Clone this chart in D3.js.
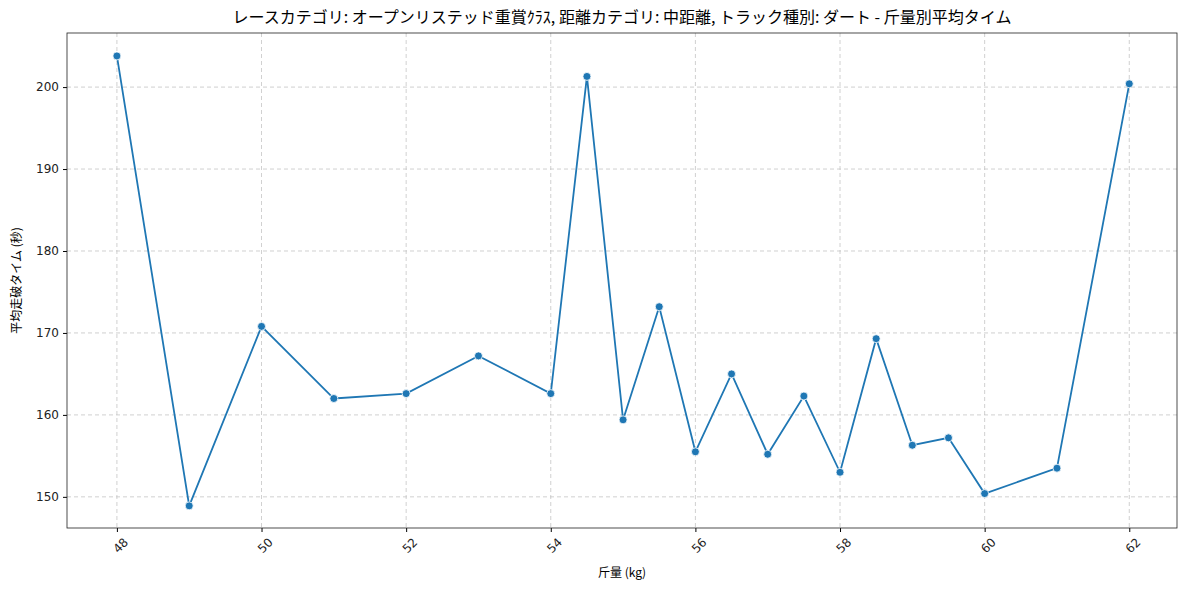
<!DOCTYPE html>
<html><head><meta charset="utf-8">
<script src="https://cdn.jsdelivr.net/npm/d3@7"></script>
<style>body{margin:0;background:#fff;font-family:"Noto Sans CJK JP","DejaVu Sans",sans-serif;}</style>
</head><body>
<svg id="chart" width="1189" height="590"></svg>
<script>
var weights = [48, 49, 50, 51, 52, 53, 54, 54.5, 55, 55.5, 56, 56.5, 57, 57.5, 58, 58.5, 59, 59.5, 60, 61, 62];
var avgTimes = [203.8, 148.9, 170.8, 162.0, 162.6, 167.2, 162.6, 201.3, 159.4, 173.2, 155.5, 165.0, 155.2, 162.3, 153.0, 169.3, 156.3, 157.2, 150.4, 153.5, 200.4];
var xTicks = [48, 50, 52, 54, 56, 58, 60, 62];
var yTicks = [150, 160, 170, 180, 190, 200];

var svg = d3.select("#chart"),
    margin = {top: 33, right: 12, bottom: 62, left: 67},
    width = 1189 - margin.left - margin.right,
    height = 590 - margin.top - margin.bottom;

var g = svg.append("g").attr("transform", "translate(" + margin.left + "," + margin.top + ")");
var x = d3.scaleLinear().domain([47.31, 62.66]).range([0, width]);
var y = d3.scaleLinear().domain([146.2, 206.6]).range([height, 0]);

// grid
g.selectAll(".gx").data(xTicks).enter().append("line")
    .attr("x1", d => x(d)).attr("x2", d => x(d)).attr("y1", 0).attr("y2", height)
    .attr("stroke", "#c4c4c4").attr("stroke-dasharray", "4,3").attr("stroke-width", 0.8);
g.selectAll(".gy").data(yTicks).enter().append("line")
    .attr("y1", d => y(d)).attr("y2", d => y(d)).attr("x1", 0).attr("x2", width)
    .attr("stroke", "#c4c4c4").attr("stroke-dasharray", "4,3").attr("stroke-width", 0.8);

var xAxis = g.append("g").attr("transform", "translate(0," + height + ")")
    .call(d3.axisBottom(x).tickValues(xTicks).tickSize(4).tickPadding(4));
xAxis.selectAll("text").attr("transform", "rotate(-45)").attr("text-anchor", "end")
    .attr("dx", "-0.2em").attr("dy", "0.9em");
var yAxis = g.append("g").call(d3.axisLeft(y).tickValues(yTicks).tickSize(4).tickPadding(4));
[xAxis, yAxis].forEach(a => {
    a.selectAll("text").attr("font-size", 12).attr("fill", "#222").attr("font-family", "DejaVu Sans");
    a.select(".domain").remove();
});
g.append("rect").attr("width", width).attr("height", height).attr("fill", "none").attr("stroke", "#222").attr("stroke-width", 0.8);

var line = d3.line().x((d, i) => x(weights[i])).y(d => y(d));
g.append("path").datum(avgTimes).attr("d", line).attr("fill", "none").attr("stroke", "#1f77b4").attr("stroke-width", 1.8);
g.selectAll(".dot").data(avgTimes).enter().append("circle")
    .attr("cx", (d, i) => x(weights[i])).attr("cy", d => y(d)).attr("r", 4)
    .attr("fill", "#1f77b4").attr("stroke", "#fff").attr("stroke-width", 0.8);

svg.append("text").attr("x", margin.left + width / 2).attr("y", 23).attr("text-anchor", "middle")
    .attr("font-size", 16).text("レースカテゴリ: オープンリステッド重賞ｸﾗｽ, 距離カテゴリ: 中距離, トラック種別: ダート - 斤量別平均タイム");
svg.append("text").attr("x", margin.left + width / 2).attr("y", 577).attr("text-anchor", "middle")
    .attr("font-size", 12).text("斤量 (kg)");
svg.append("text").attr("transform", "translate(21," + (margin.top + height / 2) + ") rotate(-90)")
    .attr("text-anchor", "middle").attr("font-size", 12).text("平均走破タイム (秒)");
</script>
</body></html>
